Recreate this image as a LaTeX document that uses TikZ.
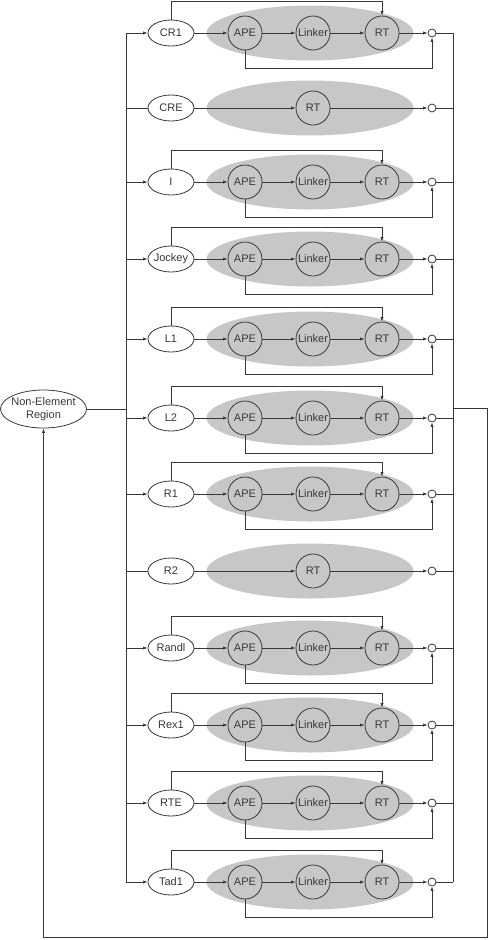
\documentclass[tikz,border=0pt]{standalone}
\usepackage{fontspec}
\setmainfont{Liberation Sans}
\usetikzlibrary{shapes.geometric, arrows.meta}

\begin{document}
\begin{tikzpicture}[x=1pt, y=-1pt, >={Latex[length=4.5pt, width=3.2pt]},
  font=\fontsize{11}{13}\selectfont, line width=0.8pt, color=black!78,
  ne/.style={ellipse, draw, fill=white, align=center, inner xsep=-4pt, inner ysep=0pt,
    minimum width=86pt, minimum height=38pt},
  te/.style={ellipse, draw, fill=white, inner xsep=-1pt, inner ysep=0pt,
    minimum width=46pt, minimum height=26pt},
  bg/.style={ellipse, fill=black!22, minimum width=207pt, minimum height=55pt},
  dm/.style={circle, draw, inner sep=0pt, minimum size=34pt},
  jn/.style={circle, draw, fill=white, inner sep=0pt, minimum size=8pt}]
  \useasboundingbox (0,0) rectangle (488,940);

  % rows with APE, Linker and RT
  \foreach \t/\y in {CR1/33, I/182, Jockey/259, L1/339, L2/418, R1/494,
                     Randl/648, Rex1/725, RTE/803, Tad1/882} {
    \node[bg] (bg\t) at (310,\y) {};
    \node[te] (el\t) at (171,\y) {\t};
    \node[dm] (ape\t) at (245,\y) {APE};
    \node[dm] (lk\t) at (313,\y) {Linker};
    \node[dm] (rt\t) at (382,\y) {RT};
    \node[jn] (jn\t) at (432,\y) {};
    \coordinate (lb\t) at (126,\y);
    \coordinate (rb\t) at (453,\y);
    \coordinate (up\t) at (382,\y-32);
    \coordinate (dn\t) at (245,\y+35);
    \draw[->] (lb\t) -- (el\t);
    \draw[->] (el\t) -- (ape\t);
    \draw[->] (ape\t) -- (lk\t);
    \draw[->] (lk\t) -- (rt\t);
    \draw[->] (rt\t) -- (jn\t);
    \draw[->] (el\t.north) |- (up\t) -- (rt\t.north);
    \draw[->] (ape\t.south) -- (dn\t) -| (jn\t.south);
    \draw (jn\t) -- (rb\t);
  }

  % rows with RT only
  \foreach \t/\y in {CRE/108, R2/571} {
    \node[bg] (bg\t) at (310,\y) {};
    \node[te] (el\t) at (171,\y) {\t};
    \node[dm] (rt\t) at (313,\y) {RT};
    \node[jn] (jn\t) at (432,\y) {};
    \coordinate (lb\t) at (126,\y);
    \coordinate (rb\t) at (453,\y);
    \draw (lb\t) -- (el\t);
    \draw[->] (el\t) -- (rt\t);
    \draw[->] (rt\t) -- (jn\t);
    \draw (jn\t) -- (rb\t);
  }

  % buses and feedback
  \node[ne] (ner) at (43.5,409) {Non-Element\\Region};
  \coordinate (lj) at (126,409);
  \coordinate (rj) at (453,408);
  \coordinate (fb) at (487,937);
  \draw (lbCR1) -- (lbTad1);
  \draw (rbCR1) -- (rbTad1);
  \draw (ner) -- (lj);
  \draw[->] (rj) -| (fb) -| (ner.south);
\end{tikzpicture}
\end{document}
